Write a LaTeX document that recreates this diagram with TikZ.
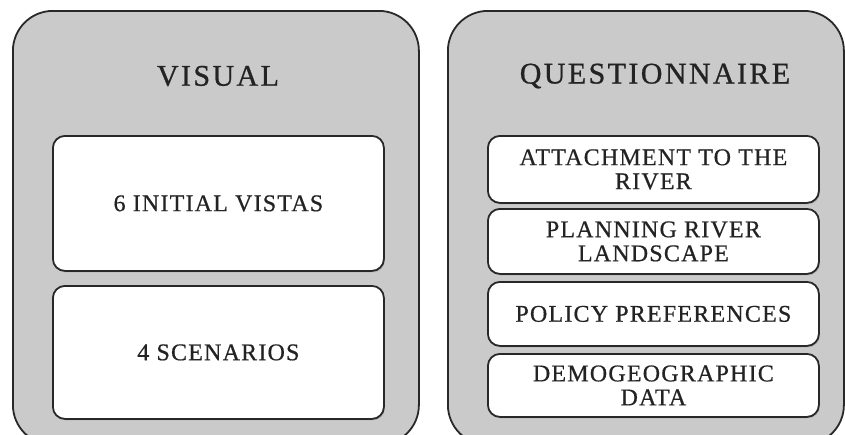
\documentclass[tikz,border=0pt]{standalone}
\usepackage{fontspec}
\setmainfont{Liberation Serif}
\newfontfamily\titlefont{Liberation Serif}[LetterSpace=8,FakeBold=0.8]
\newfontfamily\itemfont{Liberation Serif}[LetterSpace=5,FakeBold=0.6]
\usetikzlibrary{shadows}
\definecolor{panelgray}{RGB}{202,202,202}
\definecolor{edge}{RGB}{40,40,40}
\definecolor{ink}{RGB}{35,35,35}
\tikzset{
  panel/.style={draw=edge, line width=1.8pt, fill=panelgray, rounded corners=40pt, anchor=north west, inner sep=0pt},
  itembox/.style={draw=edge, line width=1.8pt, fill=white, rounded corners=12pt, anchor=north west, inner sep=0pt,
     drop shadow={shadow xshift=1pt, shadow yshift=-1.5pt, opacity=0.35}, text=ink, align=center},
  title/.style={text=ink, font=\titlefont\fontsize{30}{32}\selectfont},
  itemtxt/.style={font=\itemfont\fontsize{24}{26}\selectfont},
}
\begin{document}
\begin{tikzpicture}[x=1pt,y=-1pt]
\useasboundingbox (0,0) rectangle (845,434);
\clip (0,0) rectangle (845,434);
\node[panel, minimum width=406pt, minimum height=434pt] (pv) at (12,10) {};
\node[panel, minimum width=396pt, minimum height=434pt] (pq) at (447,10) {};
\node[title] (tv) at (218,76) {VISUAL};
\node[title] (tq) at (655,76) {QUESTIONNAIRE};
\node[itembox, itemtxt, minimum width=331pt, minimum height=135pt] (v1) at (52,135) {6 INITIAL VISTAS};
\node[itembox, itemtxt, minimum width=331pt, minimum height=133pt] (v2) at (52,285) {4 SCENARIOS};
\node[itembox, itemtxt, minimum width=331pt, minimum height=67pt] (q1) at (487,135) {ATTACHMENT TO THE\\[-2pt]RIVER};
\node[itembox, itemtxt, minimum width=331pt, minimum height=65pt] (q2) at (487,208) {PLANNING RIVER\\[-2pt]LANDSCAPE};
\node[itembox, itemtxt, minimum width=331pt, minimum height=64pt] (q3) at (487,281) {POLICY PREFERENCES};
\node[itembox, itemtxt, minimum width=331pt, minimum height=63pt] (q4) at (487,353) {DEMOGEOGRAPHIC\\[-2pt]DATA};
\end{tikzpicture}
\end{document}
